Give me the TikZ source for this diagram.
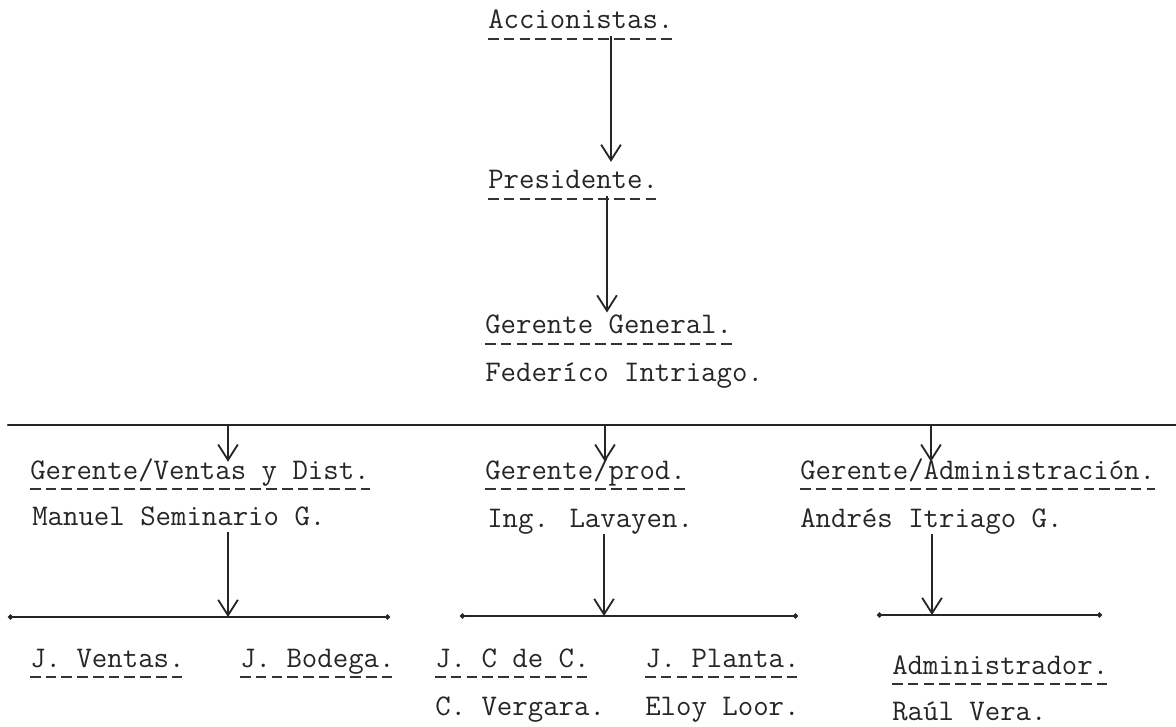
\documentclass[tikz,border=0pt]{standalone}
\usepackage{fontspec}
\usepackage{tikz}
\usetikzlibrary{arrows.meta}

\begin{document}
\begin{tikzpicture}
  [
    x=0.025cm, y=-0.025cm,
    texto/.style={anchor=base west, inner sep=0pt, text height=12.1pt,
      text depth=4.7pt, font=\ttfamily\fontsize{21.3}{24}\selectfont, black!85},
    subraya/.style={draw=black!80, line width=1.2pt, dash pattern=on 7.5pt off 3.7pt},
    cargo/.style={texto, append after command={([yshift=-2pt]\tikzlastnode.south west)
      edge[subraya] ([yshift=-2pt]\tikzlastnode.south east)}},
    nombre/.style={texto},
    flecha/.style={draw=black!85, line width=1.2pt,
      -{Straight Barb[length=11pt,width=14pt,line width=1.3pt]}},
    linea/.style={draw=black!85, line width=1.6pt, line cap=round},
    tramo/.style={linea, {Circle[length=3.5pt]}-{Circle[length=3.5pt]}}
  ]
  \useasboundingbox (0,0) rectangle (1176,727);

  % cabeza
  \node (acc)  at (488,29)  [cargo]  {Accionistas.};
  \node (pres) at (488,189) [cargo]  {Presidente.};
  \node (gg)   at (485,334) [cargo]  {Gerente General.};
  \node (ggn)  at (485,382) [nombre] {Federíco Intriago.};

  % gerentes
  \node (gv)   at (30,479)  [cargo]  {Gerente/Ventas y Dist.};
  \node (gvn)  at (32,525)  [nombre] {Manuel Seminario G.};
  \node (gp)   at (485,479) [cargo]  {Gerente/prod.};
  \node (gpn)  at (487,527) [nombre] {Ing. Lavayen.};
  \node (ga)   at (800,479) [cargo]  {Gerente/Administración.};
  \node (gan)  at (800,527) [nombre] {Andrés Itriago G.};

  % jefes
  \node (jv)   at (30,667)  [cargo]  {J. Ventas.};
  \node (jb)   at (240,667) [cargo]  {J. Bodega.};
  \node (jc)   at (435,667) [cargo]  {J. C de C.};
  \node (jcn)  at (435,715) [nombre] {C. Vergara.};
  \node (jp)   at (645,667) [cargo]  {J. Planta.};
  \node (jpn)  at (645,715) [nombre] {Eloy Loor.};
  \node (adm)  at (892,674) [cargo]  {Administrador.};
  \node (admn) at (892,720) [nombre] {Raúl Vera.};

  \coordinate (e1) at (611,0);
  \coordinate (e2) at (607,0);
  \draw [flecha, shorten >=7pt] (acc.south -| e1) -- (pres.north -| e1);
  \draw [flecha, shorten >=3pt] (pres.south -| e2) -- (gg.north -| e2);

  \coordinate (h0) at (8,425);
  \coordinate (h1) at (1176,425);
  \draw [linea] (h0) -- (h1);

  \coordinate (b1) at (228,425);
  \coordinate (b2) at (605,425);
  \coordinate (b3) at (931,425);
  \draw [flecha] (b1) -- (b1 |- gv.north);
  \draw [flecha] (b2) -- (b2 |- gp.north);
  \draw [flecha] (b3) -- (b3 |- ga.north);

  \coordinate (c1) at (228,617);
  \coordinate (c2) at (604,616);
  \coordinate (c3) at (932,615);
  \draw [flecha] (gvn.south -| c1) -- (c1);
  \draw [flecha] (gpn.south -| c2) -- (c2);
  \draw [flecha] (gan.south -| c3) -- (c3);

  \coordinate (v0) at (8,617);   \coordinate (v1) at (390,617);
  \coordinate (p0) at (460,616); \coordinate (p1) at (798,616);
  \coordinate (a0) at (877,615); \coordinate (a1) at (1102,615);
  \draw [tramo] (v0) -- (v1);
  \draw [tramo] (p0) -- (p1);
  \draw [tramo] (a0) -- (a1);
\end{tikzpicture}
\end{document}
